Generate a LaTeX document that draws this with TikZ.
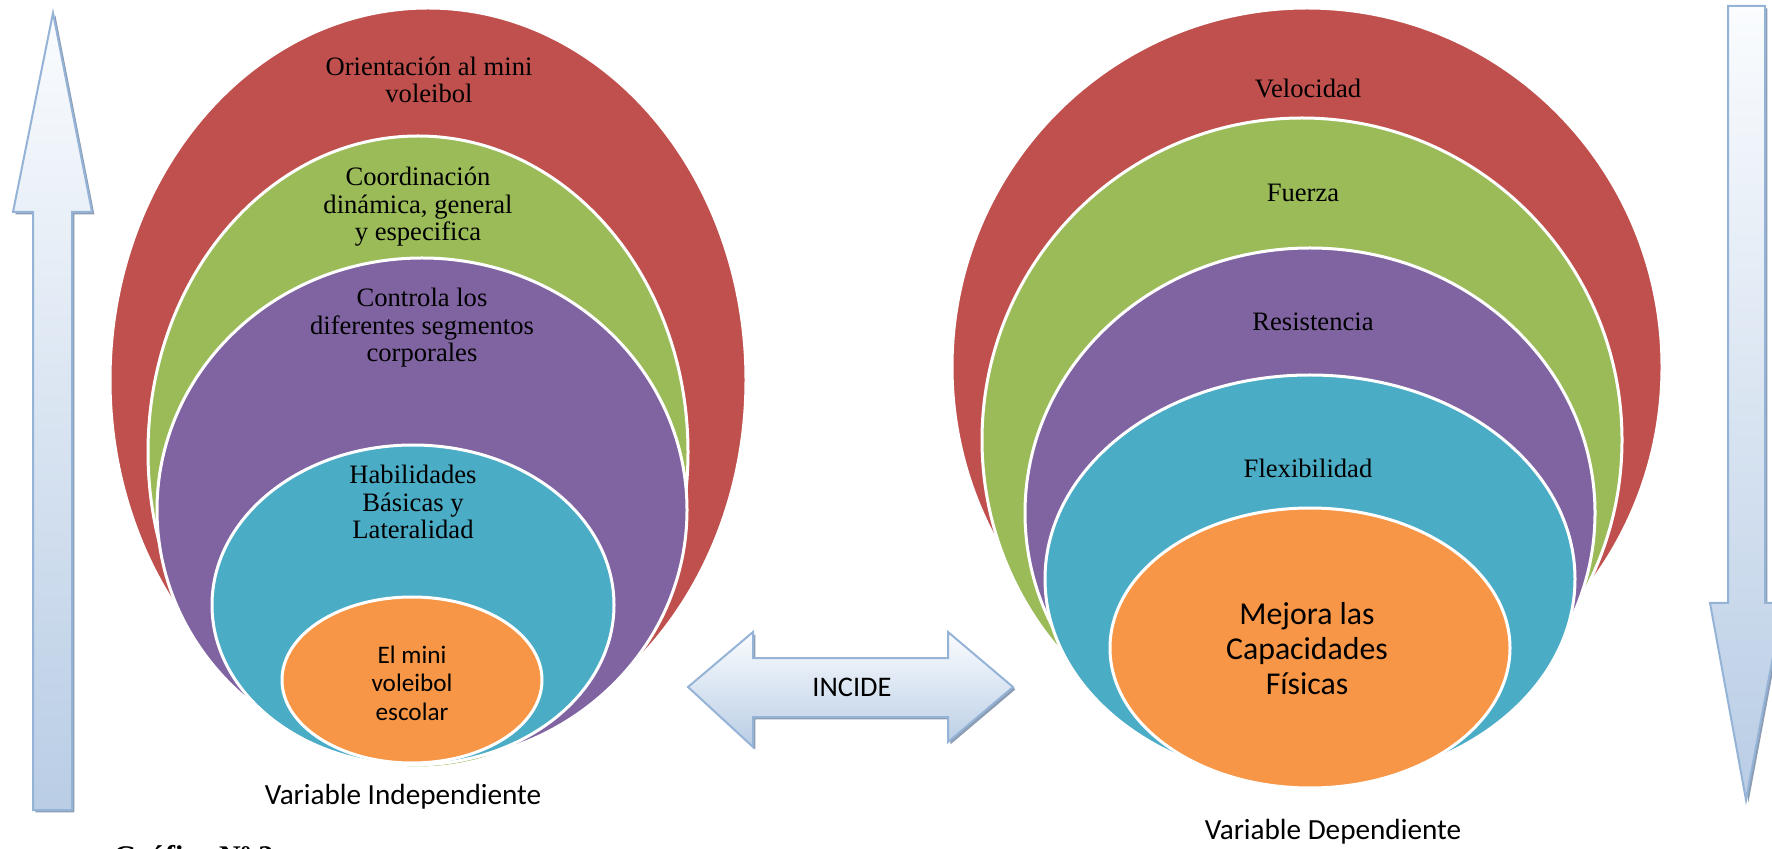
\documentclass[tikz,border=0pt]{standalone}
\usepackage{fontspec}
\setmainfont{Liberation Serif}
\newfontfamily\calibrifont{Carlito}
\usepackage{tikz}
\usetikzlibrary{shapes.geometric,shadows}
\definecolor{ringred}{HTML}{C0504D}
\definecolor{ringgreen}{HTML}{9BBB59}
\definecolor{ringpurple}{HTML}{8064A2}
\definecolor{ringteal}{HTML}{4BACC6}
\definecolor{ringorange}{HTML}{F79646}
\definecolor{arrowline}{HTML}{95B3D7}
\definecolor{arrowtop}{HTML}{FAFCFE}
\definecolor{arrowbottom}{HTML}{B9CDE5}
\definecolor{arrowshadow}{HTML}{8C9DB3}
\tikzset{
  ring/.style={
    ellipse,
    draw=white,
    line width=1.5pt,
    inner sep=0pt
  },
  layer/.style={
    align=center,
    inner sep=0pt,
    font=\fontsize{13.3}{13.8}\selectfont
  },
  core/.style={
    align=center,
    inner sep=0pt,
    font=\calibrifont\fontsize{12.6}{14.3}\selectfont
  },
  bigcore/.style={
    core,
    font=\calibrifont\fontsize{15.9}{17.5}\selectfont
  },
  caption/.style={
    inner sep=0pt,
    font=\calibrifont\fontsize{14.6}{17}\selectfont
  },
  bigarrow/.style={
    draw=arrowline,
    line width=1pt,
    line join=miter,
    top color=arrowtop,
    bottom color=arrowbottom,
    drop shadow={shadow xshift=1.2pt, shadow yshift=-1.2pt, fill=arrowshadow, opacity=1}
  }
}

\begin{document}
\begin{tikzpicture}[x=0.5pt, y=-0.5pt]
  % same size as the reference, one unit = one pixel
  \useasboundingbox (0,0) rectangle (1772,849);

  % Left target (Variable Independiente)
  \node[ring, fill=ringred,    minimum width=318pt, minimum height=372pt] (L-red)    at (428,380) {};
  \node[ring, fill=ringgreen,  minimum width=270pt, minimum height=316pt] (L-green)  at (418,452) {};
  \node[ring, fill=ringpurple, minimum width=265pt, minimum height=252pt] (L-purple) at (422,510) {};
  \node[ring, fill=ringteal,   minimum width=201pt, minimum height=160pt] (L-teal)   at (413,605) {};
  \node[ring, fill=ringorange, minimum width=130pt, minimum height=83pt]  (L-orange) at (412,680) {};

  \node[layer] (L-orient)  at (429,80)  {Orientación al mini\\voleibol};
  \node[layer] (L-coord)   at (418,207) {Coordinación\\dinámica, general\\y especifica};
  \node[layer] (L-control) at (422,328) {Controla los\\diferentes segmentos\\corporales};
  \node[layer] (L-habil)   at (413,502) {Habilidades\\Básicas y\\Lateralidad};
  \node[core]  (L-core)    at (412,683) {El mini\\voleibol\\escolar};
  \node[caption] (L-var)   at (403,797) {Variable Independiente};

  % Right target (Variable Dependiente)
  \node[ring, fill=ringred,    minimum width=355pt, minimum height=359pt] (R-red)    at (1307,367) {};
  \node[ring, fill=ringgreen,  minimum width=320pt, minimum height=322pt] (R-green)  at (1302,440) {};
  \node[ring, fill=ringpurple, minimum width=285pt, minimum height=265pt] (R-purple) at (1310,513) {};
  \node[ring, fill=ringteal,   minimum width=265pt, minimum height=204pt] (R-teal)   at (1310,579) {};
  \node[ring, fill=ringorange, minimum width=200pt, minimum height=140pt] (R-orange) at (1310,648) {};

  \node[layer] (R-vel)    at (1308,88)  {Velocidad};
  \node[layer] (R-fuerza) at (1303,193) {Fuerza};
  \node[layer] (R-resist) at (1313,322) {Resistencia};
  \node[layer] (R-flex)   at (1308,468) {Flexibilidad};
  \node[bigcore] (R-core) at (1307,649) {Mejora las\\Capacidades\\Físicas};
  \node[caption] (R-var)  at (1333,832) {Variable Dependiente};

  % side arrows
  \path[bigarrow] (53,13) -- (92,212) -- (72,212) -- (72,810) -- (33,810)
    -- (33,212) -- (13,212) -- cycle;
  \path[bigarrow] (1728,6) -- (1765,6) -- (1765,603) -- (1783,603) -- (1746,800)
    -- (1710,603) -- (1728,603) -- cycle;

  % INCIDE
  \path[bigarrow] (688,687) -- (753,632) -- (753,658) -- (948,658) -- (948,632)
    -- (1013,687) -- (948,742) -- (948,717) -- (753,717) -- (753,747) -- cycle;
  \node[caption, font=\calibrifont\fontsize{14.2}{17}\selectfont] (incide) at (852,687) {INCIDE};

  \node[anchor=north west, inner sep=0pt, font=\bfseries\fontsize{15}{18}\selectfont] (fig-label) at (113,845) {Gráfico Nº 2};
\end{tikzpicture}
\end{document}
